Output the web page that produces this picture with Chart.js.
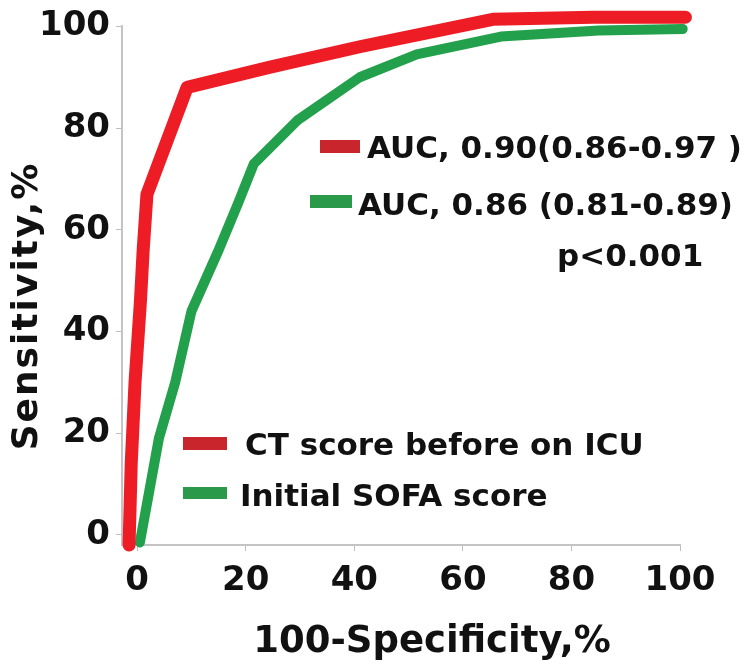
<!DOCTYPE html>
<html>
<head>
<meta charset="utf-8">
<script src="https://cdn.jsdelivr.net/npm/chart.js@4.4.1/dist/chart.umd.min.js"></script>
<style>
  html, body { margin: 0; padding: 0; background: #fff; }
  #wrap { width: 744px; height: 670px; }
</style>
</head>
<body>
<div id="wrap"><canvas id="rocChart"></canvas></div>
<script>
// ROC points (100-specificity %, sensitivity %)
const ctFpr   = [-1.5, -1.1, -0.4, 0.6, 1.1, 1.8, 9.2, 24.5, 41, 65.5, 84, 101];
const ctSens  = [-2, 14, 30, 46, 56, 67, 88, 92, 96, 101.4, 101.8, 101.8];
const sofaFpr  = [0.5, 4, 7, 10, 15, 18.5, 21.5, 29.5, 41, 51.5, 67, 85, 100.5];
const sofaSens = [-1.5, 19, 30, 44, 56, 65, 73, 81.5, 90, 94.5, 98, 99.2, 99.5];

const xTicks = [0, 20, 40, 60, 80, 100];
const yTicks = [0, 20, 40, 60, 80, 100];

const seriesLabels = ["CT score before on ICU", "Initial SOFA score"];
const aucLabels = ["AUC, 0.90(0.86-0.97 )", "AUC, 0.86 (0.81-0.89)"];
const pValueLabel = "p<0.001";
const xTitle = "100-Specificity,%";
const yTitle = "Sensitivity,%";

const RED = "#ee1d25";
const GREEN = "#22a04b";
const RED_KEY = "#c9252c";
const GREEN_KEY = "#2a9a4a";

const toPoints = (xs, ys) => xs.map((x, i) => ({ x, y: ys[i] }));

// titles, legend and AUC notes drawn as text on top of the plot
const notesPlugin = {
  id: "notes",
  afterDatasetsDraw(chart) {
    const c = chart.ctx;
    c.save();
    c.fillStyle = "#111";

    // axis titles
    c.font = 'bold 37px "DejaVu Sans"';
    c.textAlign = "center";
    c.textBaseline = "alphabetic";
    c.fillText(xTitle, 432, 652);

    c.save();
    c.translate(37, 306);
    c.rotate(-Math.PI / 2);
    c.font = 'bold 36px "DejaVu Sans"';
    c.letterSpacing = "2px";
    c.fillText(yTitle, 0, 0);
    c.restore();

    c.textAlign = "left";

    // AUC notes
    c.font = 'bold 31px "DejaVu Sans"';
    c.fillStyle = RED_KEY;
    c.fillRect(320, 140, 40, 13);
    c.fillStyle = GREEN_KEY;
    c.fillRect(310, 195, 42, 13);
    c.fillStyle = "#111";
    c.fillText(aucLabels[0], 367, 158);
    c.fillText(aucLabels[1], 358, 215);
    c.fillText(pValueLabel, 557, 266);

    // legend
    c.fillStyle = RED_KEY;
    c.fillRect(183, 437, 44, 13);
    c.fillStyle = GREEN_KEY;
    c.fillRect(183, 487, 44, 12);
    c.fillStyle = "#111";
    c.fillText(seriesLabels[0], 245, 455);
    c.fillText(seriesLabels[1], 240, 506);

    c.restore();
  }
};

Chart.defaults.font.family = '"DejaVu Sans", sans-serif';
Chart.defaults.color = "#111";

new Chart(document.getElementById("rocChart"), {
  type: "line",
  data: {
    datasets: [
      {
        label: seriesLabels[0],
        data: toPoints(ctFpr, ctSens),
        borderColor: RED,
        borderWidth: 13,
        borderCapStyle: "round",
        borderJoinStyle: "round",
        pointRadius: 0,
        tension: 0,
        clip: false
      },
      {
        label: seriesLabels[1],
        data: toPoints(sofaFpr, sofaSens),
        borderColor: GREEN,
        borderWidth: 10,
        borderCapStyle: "round",
        borderJoinStyle: "round",
        pointRadius: 0,
        tension: 0,
        clip: false
      }
    ]
  },
  options: {
    responsive: true,
    maintainAspectRatio: false,
    animation: false,
    layout: { padding: { top: 22, right: 64, left: 0, bottom: 0 } },
    plugins: { legend: { display: false }, tooltip: { enabled: false } },
    scales: {
      x: {
        type: "linear",
        min: -2.8,
        max: 100,
        afterBuildTicks: s => { s.ticks = xTicks.map(v => ({ value: v })); },
        afterFit: s => { s.height = 125; },
        grid: { display: true, drawOnChartArea: false, drawTicks: true, tickLength: 6, color: "#bdbdbd" },
        border: { display: true, color: "#c4c4c4", width: 2 },
        ticks: { font: { size: 34, weight: "bold" }, color: "#111", padding: 10, maxRotation: 0, autoSkip: false }
      },
      y: {
        type: "linear",
        min: -2,
        max: 100,
        afterBuildTicks: s => { s.ticks = yTicks.map(v => ({ value: v })); },
        afterFit: s => { s.width = 122; },
        grid: { display: true, drawOnChartArea: false, drawTicks: true, tickLength: 6, color: "#bdbdbd" },
        border: { display: true, color: "#c4c4c4", width: 2 },
        ticks: { font: { size: 34, weight: "bold" }, color: "#111", padding: 6, autoSkip: false }
      }
    }
  },
  plugins: [notesPlugin]
});
</script>
</body>
</html>
